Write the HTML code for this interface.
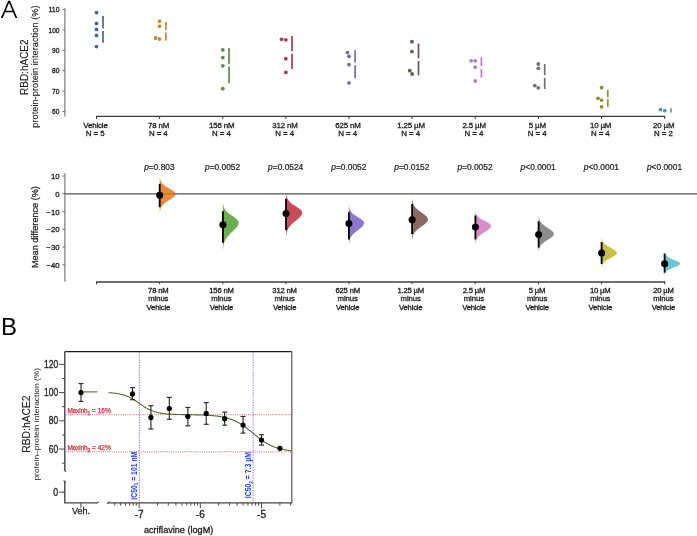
<!DOCTYPE html>
<html><head><meta charset="utf-8">
<style>
html,body{margin:0;padding:0;background:#fff;}
body{width:697px;height:536px;overflow:hidden;}
svg{display:block;font-family:"Liberation Sans", sans-serif;will-change:transform;}
</style></head>
<body>
<svg width="697" height="536" viewBox="0 0 697 536">
<rect width="697" height="536" fill="#fff"/>
<path fill-rule="evenodd" fill="#000" d="M0.9,18 L8.2,0.7 L10.0,0.7 L17.3,18 L15.5,18 L13.07,12.25 L5.13,12.25 L2.7,18 Z M5.72,10.85 L12.48,10.85 L9.1,2.83 Z"/>
<line x1="64.9" y1="8.3" x2="64.9" y2="116.6" stroke="#6e6e6e" stroke-width="1.1"/>
<line x1="62.4" y1="9.50" x2="64.9" y2="9.50" stroke="#6e6e6e" stroke-width="1"/>
<text x="59.50" y="12.10" font-size="7.3" fill="#1a1a1a" text-anchor="end" textLength="11.0" lengthAdjust="spacingAndGlyphs" stroke="#1a1a1a" stroke-width="0.3" >110</text>
<line x1="62.4" y1="29.90" x2="64.9" y2="29.90" stroke="#6e6e6e" stroke-width="1"/>
<text x="59.50" y="32.50" font-size="7.3" fill="#1a1a1a" text-anchor="end" textLength="11.0" lengthAdjust="spacingAndGlyphs" stroke="#1a1a1a" stroke-width="0.3" >100</text>
<line x1="62.4" y1="50.30" x2="64.9" y2="50.30" stroke="#6e6e6e" stroke-width="1"/>
<text x="59.50" y="52.90" font-size="7.3" fill="#1a1a1a" text-anchor="end" textLength="7.4" lengthAdjust="spacingAndGlyphs" stroke="#1a1a1a" stroke-width="0.3" >90</text>
<line x1="62.4" y1="70.70" x2="64.9" y2="70.70" stroke="#6e6e6e" stroke-width="1"/>
<text x="59.50" y="73.30" font-size="7.3" fill="#1a1a1a" text-anchor="end" textLength="7.4" lengthAdjust="spacingAndGlyphs" stroke="#1a1a1a" stroke-width="0.3" >80</text>
<line x1="62.4" y1="91.10" x2="64.9" y2="91.10" stroke="#6e6e6e" stroke-width="1"/>
<text x="59.50" y="93.70" font-size="7.3" fill="#1a1a1a" text-anchor="end" textLength="7.4" lengthAdjust="spacingAndGlyphs" stroke="#1a1a1a" stroke-width="0.3" >70</text>
<line x1="62.4" y1="111.50" x2="64.9" y2="111.50" stroke="#6e6e6e" stroke-width="1"/>
<text x="59.50" y="114.10" font-size="7.3" fill="#1a1a1a" text-anchor="end" textLength="7.4" lengthAdjust="spacingAndGlyphs" stroke="#1a1a1a" stroke-width="0.3" >60</text>
<text font-size="10" fill="#1a1a1a" text-anchor="middle" textLength="55.6" lengthAdjust="spacingAndGlyphs" stroke="#1a1a1a" stroke-width="0.1" transform="translate(27.70,67.20) rotate(-90)" >RBD:hACE2</text>
<text font-size="9.3" fill="#1a1a1a" text-anchor="middle" textLength="122.4" lengthAdjust="spacingAndGlyphs" stroke="#1a1a1a" stroke-width="0.1" transform="translate(38.30,66.60) rotate(-90)" >protein-protein interaction (%)</text>
<line x1="96.00" y1="116.3" x2="665.20" y2="116.3" stroke="#3c3c3c" stroke-width="1.3"/>
<line x1="96.50" y1="116.3" x2="96.50" y2="119" stroke="#3c3c3c" stroke-width="1"/>
<line x1="159.60" y1="116.3" x2="159.60" y2="119" stroke="#3c3c3c" stroke-width="1"/>
<line x1="222.80" y1="116.3" x2="222.80" y2="119" stroke="#3c3c3c" stroke-width="1"/>
<line x1="285.90" y1="116.3" x2="285.90" y2="119" stroke="#3c3c3c" stroke-width="1"/>
<line x1="349.00" y1="116.3" x2="349.00" y2="119" stroke="#3c3c3c" stroke-width="1"/>
<line x1="412.00" y1="116.3" x2="412.00" y2="119" stroke="#3c3c3c" stroke-width="1"/>
<line x1="475.20" y1="116.3" x2="475.20" y2="119" stroke="#3c3c3c" stroke-width="1"/>
<line x1="538.40" y1="116.3" x2="538.40" y2="119" stroke="#3c3c3c" stroke-width="1"/>
<line x1="601.60" y1="116.3" x2="601.60" y2="119" stroke="#3c3c3c" stroke-width="1"/>
<line x1="664.70" y1="116.3" x2="664.70" y2="119" stroke="#3c3c3c" stroke-width="1"/>
<text x="95.50" y="127.70" font-size="7.9" fill="#1a1a1a" text-anchor="middle" stroke="#1a1a1a" stroke-width="0.3" letter-spacing="-0.15">Vehicle</text>
<text x="95.20" y="135.80" font-size="7.9" fill="#1a1a1a" text-anchor="middle" stroke="#1a1a1a" stroke-width="0.3" letter-spacing="-0.05">N = 5</text>
<text x="158.60" y="127.70" font-size="7.9" fill="#1a1a1a" text-anchor="middle" stroke="#1a1a1a" stroke-width="0.3" letter-spacing="-0.15">78 nM</text>
<text x="158.30" y="135.80" font-size="7.9" fill="#1a1a1a" text-anchor="middle" stroke="#1a1a1a" stroke-width="0.3" letter-spacing="-0.05">N = 4</text>
<text x="221.80" y="127.70" font-size="7.9" fill="#1a1a1a" text-anchor="middle" stroke="#1a1a1a" stroke-width="0.3" letter-spacing="-0.15">156 nM</text>
<text x="221.50" y="135.80" font-size="7.9" fill="#1a1a1a" text-anchor="middle" stroke="#1a1a1a" stroke-width="0.3" letter-spacing="-0.05">N = 4</text>
<text x="284.90" y="127.70" font-size="7.9" fill="#1a1a1a" text-anchor="middle" stroke="#1a1a1a" stroke-width="0.3" letter-spacing="-0.15">312 nM</text>
<text x="284.60" y="135.80" font-size="7.9" fill="#1a1a1a" text-anchor="middle" stroke="#1a1a1a" stroke-width="0.3" letter-spacing="-0.05">N = 4</text>
<text x="348.00" y="127.70" font-size="7.9" fill="#1a1a1a" text-anchor="middle" stroke="#1a1a1a" stroke-width="0.3" letter-spacing="-0.15">625 nM</text>
<text x="347.70" y="135.80" font-size="7.9" fill="#1a1a1a" text-anchor="middle" stroke="#1a1a1a" stroke-width="0.3" letter-spacing="-0.05">N = 4</text>
<text x="411.00" y="127.70" font-size="7.9" fill="#1a1a1a" text-anchor="middle" stroke="#1a1a1a" stroke-width="0.3" letter-spacing="-0.15">1.25 µM</text>
<text x="410.70" y="135.80" font-size="7.9" fill="#1a1a1a" text-anchor="middle" stroke="#1a1a1a" stroke-width="0.3" letter-spacing="-0.05">N = 4</text>
<text x="474.20" y="127.70" font-size="7.9" fill="#1a1a1a" text-anchor="middle" stroke="#1a1a1a" stroke-width="0.3" letter-spacing="-0.15">2.5 µM</text>
<text x="473.90" y="135.80" font-size="7.9" fill="#1a1a1a" text-anchor="middle" stroke="#1a1a1a" stroke-width="0.3" letter-spacing="-0.05">N = 4</text>
<text x="537.40" y="127.70" font-size="7.9" fill="#1a1a1a" text-anchor="middle" stroke="#1a1a1a" stroke-width="0.3" letter-spacing="-0.15">5 µM</text>
<text x="537.10" y="135.80" font-size="7.9" fill="#1a1a1a" text-anchor="middle" stroke="#1a1a1a" stroke-width="0.3" letter-spacing="-0.05">N = 4</text>
<text x="600.60" y="127.70" font-size="7.9" fill="#1a1a1a" text-anchor="middle" stroke="#1a1a1a" stroke-width="0.3" letter-spacing="-0.15">10 µM</text>
<text x="600.30" y="135.80" font-size="7.9" fill="#1a1a1a" text-anchor="middle" stroke="#1a1a1a" stroke-width="0.3" letter-spacing="-0.05">N = 4</text>
<text x="663.70" y="127.70" font-size="7.9" fill="#1a1a1a" text-anchor="middle" stroke="#1a1a1a" stroke-width="0.3" letter-spacing="-0.15">20 µM</text>
<text x="663.40" y="135.80" font-size="7.9" fill="#1a1a1a" text-anchor="middle" stroke="#1a1a1a" stroke-width="0.3" letter-spacing="-0.05">N = 2</text>
<circle cx="96.5" cy="12.6" r="1.9" fill="#44689a"/>
<circle cx="96.5" cy="23.4" r="1.9" fill="#44689a"/>
<circle cx="96.5" cy="29.4" r="1.9" fill="#44689a"/>
<circle cx="96.5" cy="35.4" r="1.9" fill="#44689a"/>
<circle cx="96.5" cy="46.6" r="1.9" fill="#44689a"/>
<line x1="103.0" y1="16.1" x2="103.0" y2="28.4" stroke="#44689a" stroke-width="1.7"/>
<line x1="103.0" y1="30.9" x2="103.0" y2="42.7" stroke="#44689a" stroke-width="1.7"/>
<circle cx="159.6" cy="21.3" r="1.9" fill="#c9843f"/>
<circle cx="159.6" cy="26.3" r="1.9" fill="#c9843f"/>
<circle cx="155.7" cy="38.0" r="1.9" fill="#c9843f"/>
<circle cx="159.6" cy="39.1" r="1.9" fill="#c9843f"/>
<line x1="165.9" y1="21.9" x2="165.9" y2="30.0" stroke="#c9843f" stroke-width="1.7"/>
<line x1="165.9" y1="32.4" x2="165.9" y2="40.6" stroke="#c9843f" stroke-width="1.7"/>
<circle cx="222.8" cy="49.9" r="1.9" fill="#5b8c46"/>
<circle cx="222.8" cy="57.6" r="1.9" fill="#5b8c46"/>
<circle cx="222.8" cy="65.8" r="1.9" fill="#5b8c46"/>
<circle cx="222.8" cy="88.7" r="1.9" fill="#5b8c46"/>
<line x1="229.0" y1="48.0" x2="229.0" y2="64.3" stroke="#5b8c46" stroke-width="1.7"/>
<line x1="229.0" y1="66.5" x2="229.0" y2="82.9" stroke="#5b8c46" stroke-width="1.7"/>
<circle cx="281.6" cy="39.3" r="1.9" fill="#a53e4c"/>
<circle cx="285.8" cy="39.8" r="1.9" fill="#a53e4c"/>
<circle cx="285.8" cy="58.7" r="1.9" fill="#a53e4c"/>
<circle cx="285.8" cy="72.4" r="1.9" fill="#a53e4c"/>
<line x1="292.0" y1="36.1" x2="292.0" y2="51.2" stroke="#a53e4c" stroke-width="1.7"/>
<line x1="292.0" y1="53.8" x2="292.0" y2="69.0" stroke="#a53e4c" stroke-width="1.7"/>
<circle cx="347.4" cy="52.6" r="1.9" fill="#7768ad"/>
<circle cx="349.0" cy="56.3" r="1.9" fill="#7768ad"/>
<circle cx="349.0" cy="64.7" r="1.9" fill="#7768ad"/>
<circle cx="349.0" cy="82.9" r="1.9" fill="#7768ad"/>
<line x1="355.1" y1="50.3" x2="355.1" y2="62.6" stroke="#7768ad" stroke-width="1.7"/>
<line x1="355.1" y1="65.2" x2="355.1" y2="78.2" stroke="#7768ad" stroke-width="1.7"/>
<circle cx="411.9" cy="41.7" r="1.9" fill="#6c5550"/>
<circle cx="411.9" cy="51.6" r="1.9" fill="#6c5550"/>
<circle cx="409.8" cy="70.7" r="1.9" fill="#6c5550"/>
<circle cx="412.1" cy="74.0" r="1.9" fill="#6c5550"/>
<line x1="418.5" y1="43.6" x2="418.5" y2="58.3" stroke="#6c5550" stroke-width="1.7"/>
<line x1="418.5" y1="60.9" x2="418.5" y2="75.5" stroke="#6c5550" stroke-width="1.7"/>
<circle cx="471.2" cy="60.8" r="1.9" fill="#b67cc0"/>
<circle cx="475.2" cy="60.8" r="1.9" fill="#b67cc0"/>
<circle cx="475.2" cy="67.2" r="1.9" fill="#b67cc0"/>
<circle cx="475.2" cy="81.0" r="1.9" fill="#b67cc0"/>
<line x1="481.4" y1="57.3" x2="481.4" y2="66.0" stroke="#b67cc0" stroke-width="1.7"/>
<line x1="481.4" y1="69.0" x2="481.4" y2="77.6" stroke="#b67cc0" stroke-width="1.7"/>
<circle cx="538.3" cy="64.0" r="1.9" fill="#707070"/>
<circle cx="538.3" cy="68.3" r="1.9" fill="#707070"/>
<circle cx="534.8" cy="85.6" r="1.9" fill="#707070"/>
<circle cx="538.3" cy="87.8" r="1.9" fill="#707070"/>
<line x1="544.7" y1="64.0" x2="544.7" y2="75.1" stroke="#707070" stroke-width="1.7"/>
<line x1="544.7" y1="77.8" x2="544.7" y2="89.0" stroke="#707070" stroke-width="1.7"/>
<circle cx="601.6" cy="87.7" r="1.9" fill="#8e8a35"/>
<circle cx="598.0" cy="98.3" r="1.9" fill="#8e8a35"/>
<circle cx="601.6" cy="100.1" r="1.9" fill="#8e8a35"/>
<circle cx="601.6" cy="106.8" r="1.9" fill="#8e8a35"/>
<line x1="607.8" y1="89.8" x2="607.8" y2="97.1" stroke="#8e8a35" stroke-width="1.7"/>
<line x1="607.8" y1="99.3" x2="607.8" y2="106.8" stroke="#8e8a35" stroke-width="1.7"/>
<circle cx="660.5" cy="109.6" r="1.9" fill="#4a9aa6"/>
<circle cx="664.8" cy="110.7" r="1.9" fill="#4a9aa6"/>
<line x1="671.0" y1="108.2" x2="671.0" y2="110.4" stroke="#4a9aa6" stroke-width="1.7"/>
<line x1="671.0" y1="110.4" x2="671.0" y2="112.6" stroke="#4a9aa6" stroke-width="1.7"/>
<line x1="64.9" y1="173.2" x2="64.9" y2="281.8" stroke="#6e6e6e" stroke-width="1.1"/>
<line x1="62.4" y1="176.05" x2="64.9" y2="176.05" stroke="#6e6e6e" stroke-width="1"/>
<text x="59.60" y="179.05" font-size="7.8" fill="#1a1a1a" text-anchor="end" stroke="#1a1a1a" stroke-width="0.3" >10</text>
<line x1="62.4" y1="193.80" x2="64.9" y2="193.80" stroke="#6e6e6e" stroke-width="1"/>
<text x="59.60" y="196.80" font-size="7.8" fill="#1a1a1a" text-anchor="end" stroke="#1a1a1a" stroke-width="0.3" >0</text>
<line x1="62.4" y1="211.55" x2="64.9" y2="211.55" stroke="#6e6e6e" stroke-width="1"/>
<text x="59.60" y="214.55" font-size="7.8" fill="#1a1a1a" text-anchor="end" stroke="#1a1a1a" stroke-width="0.3" >−10</text>
<line x1="62.4" y1="229.30" x2="64.9" y2="229.30" stroke="#6e6e6e" stroke-width="1"/>
<text x="59.60" y="232.30" font-size="7.8" fill="#1a1a1a" text-anchor="end" stroke="#1a1a1a" stroke-width="0.3" >−20</text>
<line x1="62.4" y1="247.05" x2="64.9" y2="247.05" stroke="#6e6e6e" stroke-width="1"/>
<text x="59.60" y="250.05" font-size="7.8" fill="#1a1a1a" text-anchor="end" stroke="#1a1a1a" stroke-width="0.3" >−30</text>
<line x1="62.4" y1="264.80" x2="64.9" y2="264.80" stroke="#6e6e6e" stroke-width="1"/>
<text x="59.60" y="267.80" font-size="7.8" fill="#1a1a1a" text-anchor="end" stroke="#1a1a1a" stroke-width="0.3" >−40</text>
<text font-size="9.2" fill="#1a1a1a" text-anchor="middle" textLength="82.0" lengthAdjust="spacingAndGlyphs" stroke="#1a1a1a" stroke-width="0.25" transform="translate(38.30,227.10) rotate(-90)" >Mean difference (%)</text>
<line x1="64.9" y1="193.9" x2="697" y2="193.9" stroke="#555" stroke-width="1.1"/>
<line x1="96.00" y1="282" x2="665.20" y2="282" stroke="#3c3c3c" stroke-width="1.3"/>
<line x1="96.50" y1="282" x2="96.50" y2="284.3" stroke="#3c3c3c" stroke-width="1"/>
<line x1="159.60" y1="282" x2="159.60" y2="284.3" stroke="#3c3c3c" stroke-width="1"/>
<line x1="222.80" y1="282" x2="222.80" y2="284.3" stroke="#3c3c3c" stroke-width="1"/>
<line x1="285.90" y1="282" x2="285.90" y2="284.3" stroke="#3c3c3c" stroke-width="1"/>
<line x1="349.00" y1="282" x2="349.00" y2="284.3" stroke="#3c3c3c" stroke-width="1"/>
<line x1="412.00" y1="282" x2="412.00" y2="284.3" stroke="#3c3c3c" stroke-width="1"/>
<line x1="475.20" y1="282" x2="475.20" y2="284.3" stroke="#3c3c3c" stroke-width="1"/>
<line x1="538.40" y1="282" x2="538.40" y2="284.3" stroke="#3c3c3c" stroke-width="1"/>
<line x1="601.60" y1="282" x2="601.60" y2="284.3" stroke="#3c3c3c" stroke-width="1"/>
<line x1="664.70" y1="282" x2="664.70" y2="284.3" stroke="#3c3c3c" stroke-width="1"/>
<text x="158.30" y="292.70" font-size="7.7" fill="#1a1a1a" text-anchor="middle" stroke="#1a1a1a" stroke-width="0.3" letter-spacing="-0.2">78 nM</text>
<text x="158.30" y="301.30" font-size="7.7" fill="#1a1a1a" text-anchor="middle" stroke="#1a1a1a" stroke-width="0.3" letter-spacing="-0.05">minus</text>
<text x="158.30" y="309.60" font-size="7.7" fill="#1a1a1a" text-anchor="middle" stroke="#1a1a1a" stroke-width="0.3" letter-spacing="-0.2">Vehicle</text>
<text x="221.50" y="292.70" font-size="7.7" fill="#1a1a1a" text-anchor="middle" stroke="#1a1a1a" stroke-width="0.3" letter-spacing="-0.2">156 nM</text>
<text x="221.50" y="301.30" font-size="7.7" fill="#1a1a1a" text-anchor="middle" stroke="#1a1a1a" stroke-width="0.3" letter-spacing="-0.05">minus</text>
<text x="221.50" y="309.60" font-size="7.7" fill="#1a1a1a" text-anchor="middle" stroke="#1a1a1a" stroke-width="0.3" letter-spacing="-0.2">Vehicle</text>
<text x="284.60" y="292.70" font-size="7.7" fill="#1a1a1a" text-anchor="middle" stroke="#1a1a1a" stroke-width="0.3" letter-spacing="-0.2">312 nM</text>
<text x="284.60" y="301.30" font-size="7.7" fill="#1a1a1a" text-anchor="middle" stroke="#1a1a1a" stroke-width="0.3" letter-spacing="-0.05">minus</text>
<text x="284.60" y="309.60" font-size="7.7" fill="#1a1a1a" text-anchor="middle" stroke="#1a1a1a" stroke-width="0.3" letter-spacing="-0.2">Vehicle</text>
<text x="347.70" y="292.70" font-size="7.7" fill="#1a1a1a" text-anchor="middle" stroke="#1a1a1a" stroke-width="0.3" letter-spacing="-0.2">625 nM</text>
<text x="347.70" y="301.30" font-size="7.7" fill="#1a1a1a" text-anchor="middle" stroke="#1a1a1a" stroke-width="0.3" letter-spacing="-0.05">minus</text>
<text x="347.70" y="309.60" font-size="7.7" fill="#1a1a1a" text-anchor="middle" stroke="#1a1a1a" stroke-width="0.3" letter-spacing="-0.2">Vehicle</text>
<text x="410.70" y="292.70" font-size="7.7" fill="#1a1a1a" text-anchor="middle" stroke="#1a1a1a" stroke-width="0.3" letter-spacing="-0.2">1.25 µM</text>
<text x="410.70" y="301.30" font-size="7.7" fill="#1a1a1a" text-anchor="middle" stroke="#1a1a1a" stroke-width="0.3" letter-spacing="-0.05">minus</text>
<text x="410.70" y="309.60" font-size="7.7" fill="#1a1a1a" text-anchor="middle" stroke="#1a1a1a" stroke-width="0.3" letter-spacing="-0.2">Vehicle</text>
<text x="473.90" y="292.70" font-size="7.7" fill="#1a1a1a" text-anchor="middle" stroke="#1a1a1a" stroke-width="0.3" letter-spacing="-0.2">2.5 µM</text>
<text x="473.90" y="301.30" font-size="7.7" fill="#1a1a1a" text-anchor="middle" stroke="#1a1a1a" stroke-width="0.3" letter-spacing="-0.05">minus</text>
<text x="473.90" y="309.60" font-size="7.7" fill="#1a1a1a" text-anchor="middle" stroke="#1a1a1a" stroke-width="0.3" letter-spacing="-0.2">Vehicle</text>
<text x="537.10" y="292.70" font-size="7.7" fill="#1a1a1a" text-anchor="middle" stroke="#1a1a1a" stroke-width="0.3" letter-spacing="-0.2">5 µM</text>
<text x="537.10" y="301.30" font-size="7.7" fill="#1a1a1a" text-anchor="middle" stroke="#1a1a1a" stroke-width="0.3" letter-spacing="-0.05">minus</text>
<text x="537.10" y="309.60" font-size="7.7" fill="#1a1a1a" text-anchor="middle" stroke="#1a1a1a" stroke-width="0.3" letter-spacing="-0.2">Vehicle</text>
<text x="600.30" y="292.70" font-size="7.7" fill="#1a1a1a" text-anchor="middle" stroke="#1a1a1a" stroke-width="0.3" letter-spacing="-0.2">10 µM</text>
<text x="600.30" y="301.30" font-size="7.7" fill="#1a1a1a" text-anchor="middle" stroke="#1a1a1a" stroke-width="0.3" letter-spacing="-0.05">minus</text>
<text x="600.30" y="309.60" font-size="7.7" fill="#1a1a1a" text-anchor="middle" stroke="#1a1a1a" stroke-width="0.3" letter-spacing="-0.2">Vehicle</text>
<text x="663.40" y="292.70" font-size="7.7" fill="#1a1a1a" text-anchor="middle" stroke="#1a1a1a" stroke-width="0.3" letter-spacing="-0.2">20 µM</text>
<text x="663.40" y="301.30" font-size="7.7" fill="#1a1a1a" text-anchor="middle" stroke="#1a1a1a" stroke-width="0.3" letter-spacing="-0.05">minus</text>
<text x="663.40" y="309.60" font-size="7.7" fill="#1a1a1a" text-anchor="middle" stroke="#1a1a1a" stroke-width="0.3" letter-spacing="-0.2">Vehicle</text>
<text x="159.40" y="170.40" font-size="8.4" fill="#1a1a1a" text-anchor="middle" stroke="#1a1a1a" stroke-width="0.22" ><tspan font-style="italic">p</tspan>=0.803</text>
<text x="222.60" y="170.40" font-size="8.4" fill="#1a1a1a" text-anchor="middle" stroke="#1a1a1a" stroke-width="0.22" ><tspan font-style="italic">p</tspan>=0.0052</text>
<text x="285.70" y="170.40" font-size="8.4" fill="#1a1a1a" text-anchor="middle" stroke="#1a1a1a" stroke-width="0.22" ><tspan font-style="italic">p</tspan>=0.0524</text>
<text x="348.80" y="170.40" font-size="8.4" fill="#1a1a1a" text-anchor="middle" stroke="#1a1a1a" stroke-width="0.22" ><tspan font-style="italic">p</tspan>=0.0052</text>
<text x="411.80" y="170.40" font-size="8.4" fill="#1a1a1a" text-anchor="middle" stroke="#1a1a1a" stroke-width="0.22" ><tspan font-style="italic">p</tspan>=0.0152</text>
<text x="475.00" y="170.40" font-size="8.4" fill="#1a1a1a" text-anchor="middle" stroke="#1a1a1a" stroke-width="0.22" ><tspan font-style="italic">p</tspan>=0.0052</text>
<text x="538.20" y="170.40" font-size="8.4" fill="#1a1a1a" text-anchor="middle" stroke="#1a1a1a" stroke-width="0.22" ><tspan font-style="italic">p</tspan>&lt;0.0001</text>
<text x="601.40" y="170.40" font-size="8.4" fill="#1a1a1a" text-anchor="middle" stroke="#1a1a1a" stroke-width="0.22" ><tspan font-style="italic">p</tspan>&lt;0.0001</text>
<text x="664.50" y="170.40" font-size="8.4" fill="#1a1a1a" text-anchor="middle" stroke="#1a1a1a" stroke-width="0.22" ><tspan font-style="italic">p</tspan>&lt;0.0001</text>
<path d="M159.70,177.50 L159.88,177.50 L159.94,178.08 L160.02,178.66 L160.13,179.24 L160.27,179.81 L160.44,180.39 L160.65,180.97 L160.92,181.55 L161.24,182.13 L161.62,182.70 L162.07,183.28 L162.59,183.86 L163.19,184.44 L163.86,185.02 L164.62,185.60 L165.44,186.17 L166.33,186.75 L167.28,187.33 L168.26,187.91 L169.26,188.49 L170.27,189.07 L171.25,189.65 L172.18,190.22 L173.04,190.80 L173.81,191.38 L174.45,191.96 L174.95,192.54 L175.30,193.11 L175.48,193.69 L175.48,194.27 L175.35,194.85 L175.07,195.43 L174.66,196.01 L174.13,196.58 L173.49,197.16 L172.76,197.74 L171.96,198.32 L171.10,198.90 L170.21,199.48 L169.30,200.06 L168.39,200.63 L167.49,201.21 L166.63,201.79 L165.80,202.37 L165.03,202.95 L164.31,203.52 L163.65,204.10 L163.05,204.68 L162.52,205.26 L162.05,205.84 L161.65,206.42 L161.29,207.00 L160.99,207.57 L160.74,208.15 L160.53,208.73 L160.35,209.31 L160.21,209.89 L160.10,210.46 L160.01,211.04 L159.93,211.62 L159.88,212.20 L159.70,212.20 Z" fill="#e26f0b" fill-opacity="0.8"/>
<path d="M222.90,203.20 L223.08,203.20 L223.15,203.97 L223.25,204.75 L223.39,205.52 L223.56,206.29 L223.79,207.07 L224.08,207.84 L224.44,208.61 L224.88,209.39 L225.41,210.16 L226.04,210.93 L226.77,211.71 L227.60,212.48 L228.52,213.25 L229.54,214.03 L230.62,214.80 L231.75,215.57 L232.90,216.35 L234.04,217.12 L235.13,217.89 L236.13,218.67 L237.01,219.44 L237.73,220.21 L238.27,220.99 L238.60,221.76 L238.70,222.53 L238.64,223.31 L238.46,224.08 L238.17,224.85 L237.78,225.63 L237.29,226.40 L236.72,227.17 L236.07,227.95 L235.37,228.72 L234.61,229.49 L233.82,230.27 L233.01,231.04 L232.19,231.81 L231.37,232.59 L230.57,233.36 L229.79,234.13 L229.05,234.91 L228.35,235.68 L227.69,236.45 L227.08,237.23 L226.53,238.00 L226.02,238.77 L225.56,239.55 L225.16,240.32 L224.80,241.09 L224.49,241.87 L224.22,242.64 L223.98,243.41 L223.79,244.19 L223.62,244.96 L223.48,245.73 L223.36,246.51 L223.27,247.28 L223.19,248.05 L223.13,248.83 L223.08,249.60 L222.90,249.60 Z" fill="#459a24" fill-opacity="0.8"/>
<path d="M286.00,193.60 L286.18,193.60 L286.25,194.32 L286.35,195.04 L286.47,195.75 L286.63,196.47 L286.83,197.19 L287.09,197.91 L287.41,198.63 L287.80,199.35 L288.26,200.06 L288.81,200.78 L289.45,201.50 L290.18,202.22 L291.00,202.94 L291.91,203.66 L292.89,204.38 L293.93,205.09 L295.02,205.81 L296.13,206.53 L297.23,207.25 L298.29,207.97 L299.28,208.69 L300.17,209.40 L300.92,210.12 L301.52,210.84 L301.94,211.56 L302.16,212.28 L302.19,213.00 L302.07,213.71 L301.82,214.43 L301.46,215.15 L300.98,215.87 L300.40,216.59 L299.73,217.30 L298.98,218.02 L298.18,218.74 L297.34,219.46 L296.47,220.18 L295.58,220.90 L294.71,221.61 L293.85,222.33 L293.01,223.05 L292.22,223.77 L291.47,224.49 L290.77,225.21 L290.13,225.92 L289.55,226.64 L289.02,227.36 L288.55,228.08 L288.14,228.80 L287.78,229.52 L287.47,230.23 L287.20,230.95 L286.97,231.67 L286.78,232.39 L286.63,233.11 L286.50,233.83 L286.39,234.54 L286.30,235.26 L286.23,235.98 L286.18,236.70 L286.00,236.70 Z" fill="#ba1e31" fill-opacity="0.8"/>
<path d="M348.90,205.90 L349.07,205.90 L349.14,206.53 L349.22,207.17 L349.34,207.81 L349.49,208.44 L349.67,209.08 L349.91,209.71 L350.20,210.34 L350.56,210.98 L350.98,211.62 L351.48,212.25 L352.07,212.88 L352.74,213.52 L353.49,214.16 L354.32,214.79 L355.23,215.43 L356.19,216.06 L357.20,216.69 L358.23,217.33 L359.26,217.97 L360.26,218.60 L361.20,219.24 L362.06,219.87 L362.80,220.50 L363.41,221.14 L363.85,221.78 L364.12,222.41 L364.20,223.05 L364.13,223.68 L363.93,224.31 L363.62,224.95 L363.19,225.59 L362.66,226.22 L362.05,226.85 L361.36,227.49 L360.60,228.12 L359.81,228.76 L358.98,229.40 L358.14,230.03 L357.30,230.66 L356.48,231.30 L355.67,231.94 L354.91,232.57 L354.19,233.21 L353.51,233.84 L352.89,234.47 L352.33,235.11 L351.82,235.75 L351.36,236.38 L350.96,237.01 L350.61,237.65 L350.31,238.28 L350.05,238.92 L349.83,239.56 L349.65,240.19 L349.50,240.82 L349.37,241.46 L349.27,242.09 L349.19,242.73 L349.12,243.37 L349.07,244.00 L348.90,244.00 Z" fill="#7255bf" fill-opacity="0.8"/>
<path d="M412.10,199.00 L412.28,199.00 L412.34,199.68 L412.42,200.37 L412.52,201.05 L412.64,201.73 L412.80,202.42 L412.99,203.10 L413.23,203.78 L413.51,204.47 L413.85,205.15 L414.25,205.83 L414.72,206.52 L415.25,207.20 L415.85,207.88 L416.52,208.57 L417.26,209.25 L418.07,209.93 L418.93,210.62 L419.84,211.30 L420.78,211.98 L421.74,212.67 L422.70,213.35 L423.65,214.03 L424.55,214.72 L425.38,215.40 L426.13,216.08 L426.78,216.77 L427.30,217.45 L427.69,218.13 L427.92,218.82 L428.00,219.50 L427.92,220.18 L427.69,220.87 L427.30,221.55 L426.78,222.23 L426.13,222.92 L425.38,223.60 L424.55,224.28 L423.65,224.97 L422.70,225.65 L421.74,226.33 L420.78,227.02 L419.84,227.70 L418.93,228.38 L418.07,229.07 L417.26,229.75 L416.52,230.43 L415.85,231.12 L415.25,231.80 L414.72,232.48 L414.25,233.17 L413.85,233.85 L413.51,234.53 L413.23,235.22 L412.99,235.90 L412.80,236.58 L412.64,237.27 L412.52,237.95 L412.42,238.63 L412.34,239.32 L412.28,240.00 L412.10,240.00 Z" fill="#6d4538" fill-opacity="0.8"/>
<path d="M475.40,211.30 L475.57,211.30 L475.64,211.84 L475.73,212.39 L475.85,212.94 L476.01,213.48 L476.20,214.03 L476.45,214.57 L476.75,215.12 L477.13,215.66 L477.57,216.21 L478.10,216.75 L478.72,217.30 L479.42,217.84 L480.21,218.39 L481.08,218.93 L482.03,219.48 L483.03,220.02 L484.08,220.56 L485.14,221.11 L486.20,221.66 L487.22,222.20 L488.18,222.75 L489.03,223.29 L489.76,223.84 L490.34,224.38 L490.75,224.93 L490.96,225.47 L490.99,226.02 L490.88,226.56 L490.64,227.11 L490.29,227.65 L489.83,228.19 L489.27,228.74 L488.63,229.28 L487.91,229.83 L487.14,230.38 L486.33,230.92 L485.49,231.47 L484.64,232.01 L483.79,232.56 L482.96,233.10 L482.16,233.65 L481.40,234.19 L480.67,234.74 L480.00,235.28 L479.38,235.82 L478.82,236.37 L478.31,236.91 L477.86,237.46 L477.46,238.00 L477.11,238.55 L476.81,239.09 L476.56,239.64 L476.34,240.19 L476.16,240.73 L476.00,241.28 L475.88,241.82 L475.78,242.37 L475.69,242.91 L475.63,243.45 L475.57,244.00 L475.40,244.00 Z" fill="#d06ec3" fill-opacity="0.8"/>
<path d="M538.60,216.00 L538.77,216.00 L538.83,216.59 L538.90,217.18 L538.99,217.77 L539.11,218.36 L539.26,218.95 L539.44,219.54 L539.66,220.13 L539.92,220.72 L540.23,221.31 L540.60,221.90 L541.03,222.49 L541.52,223.08 L542.08,223.67 L542.70,224.26 L543.38,224.85 L544.13,225.44 L544.93,226.03 L545.78,226.62 L546.66,227.21 L547.57,227.80 L548.48,228.39 L549.38,228.98 L550.25,229.57 L551.07,230.16 L551.81,230.75 L552.47,231.34 L553.02,231.93 L553.44,232.52 L553.73,233.11 L553.88,233.70 L553.88,234.29 L553.72,234.88 L553.42,235.47 L552.96,236.06 L552.38,236.65 L551.69,237.24 L550.90,237.83 L550.04,238.42 L549.14,239.01 L548.20,239.60 L547.26,240.19 L546.33,240.78 L545.42,241.37 L544.57,241.96 L543.76,242.55 L543.02,243.14 L542.35,243.73 L541.74,244.32 L541.21,244.91 L540.74,245.50 L540.34,246.09 L540.00,246.68 L539.72,247.27 L539.48,247.86 L539.29,248.45 L539.13,249.04 L539.01,249.63 L538.91,250.22 L538.83,250.81 L538.77,251.40 L538.60,251.40 Z" fill="#6f6f6f" fill-opacity="0.8"/>
<path d="M601.60,237.80 L601.77,237.80 L601.83,238.30 L601.90,238.80 L602.00,239.30 L602.11,239.80 L602.26,240.30 L602.44,240.80 L602.66,241.30 L602.93,241.80 L603.25,242.30 L603.62,242.80 L604.05,243.30 L604.54,243.80 L605.10,244.30 L605.73,244.80 L606.42,245.30 L607.17,245.80 L607.98,246.30 L608.84,246.80 L609.73,247.30 L610.64,247.80 L611.55,248.30 L612.45,248.80 L613.32,249.30 L614.13,249.80 L614.87,250.30 L615.52,250.80 L616.06,251.30 L616.48,251.80 L616.75,252.30 L616.89,252.80 L616.87,253.30 L616.70,253.80 L616.38,254.30 L615.91,254.80 L615.32,255.30 L614.62,255.80 L613.83,256.30 L612.97,256.80 L612.06,257.30 L611.13,257.80 L610.19,258.30 L609.27,258.80 L608.37,259.30 L607.52,259.80 L606.72,260.30 L605.98,260.80 L605.32,261.30 L604.72,261.80 L604.19,262.30 L603.73,262.80 L603.33,263.30 L602.99,263.80 L602.71,264.30 L602.48,264.80 L602.28,265.30 L602.13,265.80 L602.00,266.30 L601.91,266.80 L601.83,267.30 L601.77,267.80 L601.60,267.80 Z" fill="#baaf1a" fill-opacity="0.8"/>
<path d="M664.60,252.20 L664.77,252.20 L664.83,252.58 L664.91,252.96 L665.00,253.33 L665.12,253.71 L665.27,254.09 L665.45,254.47 L665.68,254.85 L665.95,255.23 L666.27,255.60 L666.64,255.98 L667.08,256.36 L667.58,256.74 L668.15,257.12 L668.78,257.50 L669.49,257.88 L670.25,258.25 L671.07,258.63 L671.93,259.01 L672.83,259.39 L673.76,259.77 L674.68,260.14 L675.60,260.52 L676.47,260.90 L677.30,261.28 L678.05,261.66 L678.71,262.04 L679.25,262.41 L679.67,262.79 L679.95,263.17 L680.09,263.55 L680.07,263.93 L679.90,264.31 L679.57,264.69 L679.10,265.06 L678.50,265.44 L677.79,265.82 L676.99,266.20 L676.12,266.58 L675.20,266.95 L674.25,267.33 L673.30,267.71 L672.36,268.09 L671.46,268.47 L670.59,268.85 L669.79,269.22 L669.04,269.60 L668.36,269.98 L667.76,270.36 L667.22,270.74 L666.75,271.12 L666.35,271.50 L666.01,271.87 L665.72,272.25 L665.49,272.63 L665.29,273.01 L665.14,273.39 L665.01,273.76 L664.91,274.14 L664.83,274.52 L664.77,274.90 L664.60,274.90 Z" fill="#4ab5cc" fill-opacity="0.8"/>
<line x1="159.7" y1="183.8" x2="159.7" y2="207.2" stroke="#000" stroke-width="1.8"/>
<circle cx="159.7" cy="195.2" r="3.5" fill="#000"/>
<line x1="222.9" y1="211.3" x2="222.9" y2="242.8" stroke="#000" stroke-width="1.8"/>
<circle cx="222.9" cy="224.8" r="3.5" fill="#000"/>
<line x1="286.0" y1="199.0" x2="286.0" y2="229.9" stroke="#000" stroke-width="1.8"/>
<circle cx="286.0" cy="213.5" r="3.5" fill="#000"/>
<line x1="348.9" y1="212.2" x2="348.9" y2="239.4" stroke="#000" stroke-width="1.8"/>
<circle cx="348.9" cy="223.6" r="3.5" fill="#000"/>
<line x1="412.1" y1="204.0" x2="412.1" y2="234.0" stroke="#000" stroke-width="1.8"/>
<circle cx="412.1" cy="219.8" r="3.5" fill="#000"/>
<line x1="475.4" y1="215.4" x2="475.4" y2="239.4" stroke="#000" stroke-width="1.8"/>
<circle cx="475.4" cy="226.9" r="3.5" fill="#000"/>
<line x1="538.6" y1="221.4" x2="538.6" y2="247.6" stroke="#000" stroke-width="1.8"/>
<circle cx="538.6" cy="234.5" r="3.5" fill="#000"/>
<line x1="601.6" y1="242.1" x2="601.6" y2="264.0" stroke="#000" stroke-width="1.8"/>
<circle cx="601.6" cy="253.1" r="3.5" fill="#000"/>
<line x1="664.6" y1="253.6" x2="664.6" y2="272.7" stroke="#000" stroke-width="1.8"/>
<circle cx="664.6" cy="263.7" r="3.5" fill="#000"/>
<text x="1.10" y="335.00" font-size="24" fill="#000" >B</text>
<line x1="64.9" y1="351.6" x2="291.8" y2="351.6" stroke="#1e1e1e" stroke-width="1.1"/>
<line x1="291.8" y1="351.6" x2="291.8" y2="502.85" stroke="#555" stroke-width="1.2"/>
<path d="M64.8,351.6 L64.8,470.3" fill="none" stroke="#444" stroke-width="1.4"/>
<path d="M64.0,469.6 L66.0,471.9" fill="none" stroke="#444" stroke-width="1.1"/>
<path d="M63.6,480.4 L66.0,482.6" fill="none" stroke="#444" stroke-width="1.1"/>
<path d="M64.8,481.4 L64.8,502.85" fill="none" stroke="#444" stroke-width="1.4"/>
<line x1="59.1" y1="364.36" x2="65" y2="364.36" stroke="#444" stroke-width="1"/>
<text x="58.20" y="367.86" font-size="10.2" fill="#1a1a1a" text-anchor="end" textLength="14.2" lengthAdjust="spacingAndGlyphs" stroke="#1a1a1a" stroke-width="0.3" >120</text>
<line x1="62.0" y1="378.48" x2="65" y2="378.48" stroke="#444" stroke-width="1"/>
<line x1="59.1" y1="392.60" x2="65" y2="392.60" stroke="#444" stroke-width="1"/>
<text x="58.20" y="396.10" font-size="10.2" fill="#1a1a1a" text-anchor="end" textLength="14.2" lengthAdjust="spacingAndGlyphs" stroke="#1a1a1a" stroke-width="0.3" >100</text>
<line x1="62.0" y1="406.72" x2="65" y2="406.72" stroke="#444" stroke-width="1"/>
<line x1="59.1" y1="420.84" x2="65" y2="420.84" stroke="#444" stroke-width="1"/>
<text x="58.20" y="424.34" font-size="10.2" fill="#1a1a1a" text-anchor="end" textLength="9.4" lengthAdjust="spacingAndGlyphs" stroke="#1a1a1a" stroke-width="0.3" >80</text>
<line x1="62.0" y1="434.96" x2="65" y2="434.96" stroke="#444" stroke-width="1"/>
<line x1="59.1" y1="449.08" x2="65" y2="449.08" stroke="#444" stroke-width="1"/>
<text x="58.20" y="452.58" font-size="10.2" fill="#1a1a1a" text-anchor="end" textLength="9.4" lengthAdjust="spacingAndGlyphs" stroke="#1a1a1a" stroke-width="0.3" >60</text>
<line x1="62.0" y1="463.20" x2="65" y2="463.20" stroke="#444" stroke-width="1"/>
<line x1="59.1" y1="492.2" x2="65" y2="492.2" stroke="#444" stroke-width="1"/>
<text x="58.20" y="495.70" font-size="10.2" fill="#1a1a1a" text-anchor="end" textLength="4.9" lengthAdjust="spacingAndGlyphs" stroke="#1a1a1a" stroke-width="0.3" >0</text>
<text font-size="10.4" fill="#1a1a1a" text-anchor="middle" textLength="57.4" lengthAdjust="spacingAndGlyphs" stroke="#1a1a1a" stroke-width="0.1" transform="translate(29.60,424.10) rotate(-90)" >RBD:hACE2</text>
<text transform="translate(39.3,424.3) rotate(-90) scale(1,0.8)" font-size="8.6" fill="#1a1a1a" text-anchor="middle" textLength="112.6" lengthAdjust="spacingAndGlyphs">protein–protein interaction (%)</text>
<path d="M64.1,502.85 L96.6,502.85" fill="none" stroke="#444" stroke-width="1.4"/>
<path d="M96.3,503.45000000000005 L98.6,501.65000000000003" fill="none" stroke="#444" stroke-width="1.1"/>
<path d="M107.2,503.75 L109.4,501.75" fill="none" stroke="#444" stroke-width="1.1"/>
<path d="M108.6,502.85 L292.3,502.85" fill="none" stroke="#444" stroke-width="1.4"/>
<line x1="80.9" y1="502.85" x2="80.9" y2="507.85" stroke="#444" stroke-width="1"/>
<text x="80.90" y="513.80" font-size="9.9" fill="#1a1a1a" text-anchor="middle" textLength="18.0" lengthAdjust="spacingAndGlyphs" stroke="#1a1a1a" stroke-width="0.3" >Veh.</text>
<line x1="114.75" y1="502.85" x2="114.75" y2="505.55" stroke="#444" stroke-width="1"/>
<line x1="120.68" y1="502.85" x2="120.68" y2="505.55" stroke="#444" stroke-width="1"/>
<line x1="125.52" y1="502.85" x2="125.52" y2="505.55" stroke="#444" stroke-width="1"/>
<line x1="129.62" y1="502.85" x2="129.62" y2="505.55" stroke="#444" stroke-width="1"/>
<line x1="133.17" y1="502.85" x2="133.17" y2="505.55" stroke="#444" stroke-width="1"/>
<line x1="136.30" y1="502.85" x2="136.30" y2="505.55" stroke="#444" stroke-width="1"/>
<line x1="139.10" y1="502.85" x2="139.10" y2="508.05" stroke="#444" stroke-width="1"/>
<line x1="157.52" y1="502.85" x2="157.52" y2="505.55" stroke="#444" stroke-width="1"/>
<line x1="168.30" y1="502.85" x2="168.30" y2="505.55" stroke="#444" stroke-width="1"/>
<line x1="175.95" y1="502.85" x2="175.95" y2="505.55" stroke="#444" stroke-width="1"/>
<line x1="181.88" y1="502.85" x2="181.88" y2="505.55" stroke="#444" stroke-width="1"/>
<line x1="186.72" y1="502.85" x2="186.72" y2="505.55" stroke="#444" stroke-width="1"/>
<line x1="190.82" y1="502.85" x2="190.82" y2="505.55" stroke="#444" stroke-width="1"/>
<line x1="194.37" y1="502.85" x2="194.37" y2="505.55" stroke="#444" stroke-width="1"/>
<line x1="197.50" y1="502.85" x2="197.50" y2="505.55" stroke="#444" stroke-width="1"/>
<line x1="200.30" y1="502.85" x2="200.30" y2="508.05" stroke="#444" stroke-width="1"/>
<line x1="218.72" y1="502.85" x2="218.72" y2="505.55" stroke="#444" stroke-width="1"/>
<line x1="229.50" y1="502.85" x2="229.50" y2="505.55" stroke="#444" stroke-width="1"/>
<line x1="237.15" y1="502.85" x2="237.15" y2="505.55" stroke="#444" stroke-width="1"/>
<line x1="243.08" y1="502.85" x2="243.08" y2="505.55" stroke="#444" stroke-width="1"/>
<line x1="247.92" y1="502.85" x2="247.92" y2="505.55" stroke="#444" stroke-width="1"/>
<line x1="252.02" y1="502.85" x2="252.02" y2="505.55" stroke="#444" stroke-width="1"/>
<line x1="255.57" y1="502.85" x2="255.57" y2="505.55" stroke="#444" stroke-width="1"/>
<line x1="258.70" y1="502.85" x2="258.70" y2="505.55" stroke="#444" stroke-width="1"/>
<line x1="261.50" y1="502.85" x2="261.50" y2="508.05" stroke="#444" stroke-width="1"/>
<line x1="279.92" y1="502.85" x2="279.92" y2="505.55" stroke="#444" stroke-width="1"/>
<line x1="290.70" y1="502.85" x2="290.70" y2="505.55" stroke="#444" stroke-width="1"/>
<text x="139.10" y="517.60" font-size="10" fill="#1a1a1a" text-anchor="middle" stroke="#1a1a1a" stroke-width="0.3" >-7</text>
<text x="200.30" y="517.60" font-size="10" fill="#1a1a1a" text-anchor="middle" stroke="#1a1a1a" stroke-width="0.3" >-6</text>
<text x="261.50" y="517.60" font-size="10" fill="#1a1a1a" text-anchor="middle" stroke="#1a1a1a" stroke-width="0.3" >-5</text>
<text x="178.60" y="532.50" font-size="9.2" fill="#1a1a1a" text-anchor="middle" textLength="69.4" lengthAdjust="spacingAndGlyphs" stroke="#1a1a1a" stroke-width="0.3" >acriflavine (logM)</text>
<line x1="65.6" y1="414.70" x2="291.2" y2="414.70" stroke="#e03a48" stroke-width="1" stroke-dasharray="1,1.2" opacity="0.85"/>
<line x1="65.6" y1="451.80" x2="291.2" y2="451.80" stroke="#e03a48" stroke-width="1" stroke-dasharray="1,1.2" opacity="0.85"/>
<line x1="139.36" y1="352.2" x2="139.36" y2="502.2" stroke="#4a4cf0" stroke-width="1" stroke-dasharray="1.2,1.3" opacity="0.8"/>
<line x1="253.13" y1="352.2" x2="253.13" y2="502.2" stroke="#4a4cf0" stroke-width="1" stroke-dasharray="1.2,1.3" opacity="0.8"/>
<text x="67.40" y="413.30" font-size="6.5" fill="#d8303f" stroke="#d8303f" stroke-width="0.25" ><tspan letter-spacing="-0.2">MaxInh</tspan><tspan font-size="5.0" dy="1.6">1</tspan><tspan dy="-1.6"> = 16%</tspan></text>
<text x="67.40" y="449.90" font-size="6.5" fill="#d8303f" stroke="#d8303f" stroke-width="0.25" ><tspan letter-spacing="-0.2">MaxInh</tspan><tspan font-size="5.0" dy="1.6">2</tspan><tspan dy="-1.6"> = 42%</tspan></text>
<text font-size="8.2" fill="#1f3fff" textLength="48.0" lengthAdjust="spacingAndGlyphs" font-weight="bold" transform="translate(136.90,499.70) rotate(-90)" >IC50<tspan font-size="5.6" dy="1.4">1</tspan><tspan dy="-1.4"> = 101 nM</tspan></text>
<text font-size="8.2" fill="#1f3fff" textLength="46.2" lengthAdjust="spacingAndGlyphs" font-weight="bold" transform="translate(251.30,498.20) rotate(-90)" >IC50<tspan font-size="5.6" dy="1.4">2</tspan><tspan dy="-1.4"> = 7.3 µM</tspan></text>
<path d="M108.60,392.66 L109.40,392.71 L110.20,392.76 L111.00,392.82 L111.80,392.89 L112.60,392.96 L113.40,393.04 L114.20,393.12 L115.00,393.22 L115.80,393.32 L116.60,393.43 L117.40,393.56 L118.20,393.69 L119.00,393.84 L119.80,394.00 L120.60,394.17 L121.40,394.36 L122.20,394.56 L123.00,394.78 L123.80,395.02 L124.60,395.27 L125.40,395.55 L126.20,395.84 L127.00,396.16 L127.80,396.49 L128.60,396.85 L129.40,397.23 L130.20,397.63 L131.00,398.05 L131.80,398.49 L132.60,398.95 L133.40,399.43 L134.20,399.92 L135.00,400.43 L135.80,400.96 L136.60,401.50 L137.40,402.04 L138.20,402.59 L139.00,403.15 L139.80,403.71 L140.60,404.26 L141.40,404.82 L142.20,405.36 L143.00,405.90 L143.80,406.42 L144.60,406.93 L145.40,407.42 L146.20,407.90 L147.00,408.36 L147.80,408.80 L148.60,409.22 L149.40,409.62 L150.20,409.99 L151.00,410.35 L151.80,410.68 L152.60,411.00 L153.40,411.29 L154.20,411.56 L155.00,411.82 L155.80,412.05 L156.60,412.27 L157.40,412.47 L158.20,412.66 L159.00,412.83 L159.80,412.99 L160.60,413.14 L161.40,413.27 L162.20,413.39 L163.00,413.51 L163.80,413.61 L164.60,413.70 L165.40,413.79 L166.20,413.87 L167.00,413.94 L167.80,414.01 L168.60,414.07 L169.40,414.12 L170.20,414.17 L171.00,414.22 L171.80,414.26 L172.60,414.30 L173.40,414.34 L174.20,414.37 L175.00,414.40 L175.80,414.43 L176.60,414.45 L177.40,414.48 L178.20,414.50 L179.00,414.52 L179.80,414.54 L180.60,414.55 L181.40,414.57 L182.20,414.59 L183.00,414.60 L183.80,414.62 L184.60,414.63 L185.40,414.65 L186.20,414.66 L187.00,414.67 L187.80,414.69 L188.60,414.70 L189.40,414.71 L190.20,414.73 L191.00,414.74 L191.80,414.76 L192.60,414.77 L193.40,414.79 L194.20,414.80 L195.00,414.82 L195.80,414.84 L196.60,414.86 L197.40,414.88 L198.20,414.90 L199.00,414.92 L199.80,414.95 L200.60,414.97 L201.40,415.00 L202.20,415.03 L203.00,415.06 L203.80,415.09 L204.60,415.12 L205.40,415.16 L206.20,415.20 L207.00,415.24 L207.80,415.29 L208.60,415.34 L209.40,415.39 L210.20,415.44 L211.00,415.50 L211.80,415.56 L212.60,415.63 L213.40,415.70 L214.20,415.78 L215.00,415.86 L215.80,415.95 L216.60,416.04 L217.40,416.14 L218.20,416.25 L219.00,416.36 L219.80,416.49 L220.60,416.61 L221.40,416.75 L222.20,416.90 L223.00,417.05 L223.80,417.22 L224.60,417.40 L225.40,417.58 L226.20,417.78 L227.00,417.99 L227.80,418.21 L228.60,418.45 L229.40,418.70 L230.20,418.96 L231.00,419.24 L231.80,419.54 L232.60,419.84 L233.40,420.17 L234.20,420.51 L235.00,420.87 L235.80,421.25 L236.60,421.64 L237.40,422.05 L238.20,422.48 L239.00,422.93 L239.80,423.40 L240.60,423.88 L241.40,424.38 L242.20,424.90 L243.00,425.43 L243.80,425.98 L244.60,426.55 L245.40,427.13 L246.20,427.72 L247.00,428.33 L247.80,428.95 L248.60,429.58 L249.40,430.22 L250.20,430.86 L251.00,431.51 L251.80,432.17 L252.60,432.83 L253.40,433.48 L254.20,434.14 L255.00,434.80 L255.80,435.45 L256.60,436.10 L257.40,436.74 L258.20,437.37 L259.00,437.99 L259.80,438.60 L260.60,439.20 L261.40,439.79 L262.20,440.36 L263.00,440.92 L263.80,441.46 L264.60,441.98 L265.40,442.49 L266.20,442.98 L267.00,443.45 L267.80,443.90 L268.60,444.34 L269.40,444.75 L270.20,445.15 L271.00,445.54 L271.80,445.90 L272.60,446.25 L273.40,446.58 L274.20,446.89 L275.00,447.19 L275.80,447.48 L276.60,447.74 L277.40,448.00 L278.20,448.24 L279.00,448.47 L279.80,448.68 L280.60,448.88 L281.40,449.07 L282.20,449.25 L283.00,449.42 L283.80,449.58 L284.60,449.73 L285.40,449.87 L286.20,450.00 L287.00,450.13 L287.80,450.24 L288.60,450.35 L289.40,450.45 L290.20,450.55 L291.00,450.64" fill="none" stroke="#4a6e2c" stroke-width="1.1"/>
<line x1="83.5" y1="391.9" x2="97.3" y2="391.9" stroke="#4a6e2c" stroke-width="1.1"/>
<line x1="81.00" y1="383.6" x2="81.00" y2="401.4" stroke="#2a2a2a" stroke-width="1.15"/>
<line x1="78.50" y1="383.6" x2="83.50" y2="383.6" stroke="#2a2a2a" stroke-width="1.15"/>
<line x1="78.50" y1="401.4" x2="83.50" y2="401.4" stroke="#2a2a2a" stroke-width="1.15"/>
<circle cx="81.00" cy="392.6" r="2.6" fill="#000"/>
<line x1="132.49" y1="387.6" x2="132.49" y2="399.7" stroke="#2a2a2a" stroke-width="1.15"/>
<line x1="129.99" y1="387.6" x2="134.99" y2="387.6" stroke="#2a2a2a" stroke-width="1.15"/>
<line x1="129.99" y1="399.7" x2="134.99" y2="399.7" stroke="#2a2a2a" stroke-width="1.15"/>
<circle cx="132.49" cy="393.9" r="2.6" fill="#000"/>
<line x1="150.91" y1="405.7" x2="150.91" y2="429.0" stroke="#2a2a2a" stroke-width="1.15"/>
<line x1="148.41" y1="405.7" x2="153.41" y2="405.7" stroke="#2a2a2a" stroke-width="1.15"/>
<line x1="148.41" y1="429.0" x2="153.41" y2="429.0" stroke="#2a2a2a" stroke-width="1.15"/>
<circle cx="150.91" cy="417.4" r="2.6" fill="#000"/>
<line x1="169.33" y1="397.4" x2="169.33" y2="419.3" stroke="#2a2a2a" stroke-width="1.15"/>
<line x1="166.83" y1="397.4" x2="171.83" y2="397.4" stroke="#2a2a2a" stroke-width="1.15"/>
<line x1="166.83" y1="419.3" x2="171.83" y2="419.3" stroke="#2a2a2a" stroke-width="1.15"/>
<circle cx="169.33" cy="408.5" r="2.6" fill="#000"/>
<line x1="187.82" y1="407.5" x2="187.82" y2="425.8" stroke="#2a2a2a" stroke-width="1.15"/>
<line x1="185.32" y1="407.5" x2="190.32" y2="407.5" stroke="#2a2a2a" stroke-width="1.15"/>
<line x1="185.32" y1="425.8" x2="190.32" y2="425.8" stroke="#2a2a2a" stroke-width="1.15"/>
<circle cx="187.82" cy="416.4" r="2.6" fill="#000"/>
<line x1="206.24" y1="402.6" x2="206.24" y2="424.3" stroke="#2a2a2a" stroke-width="1.15"/>
<line x1="203.74" y1="402.6" x2="208.74" y2="402.6" stroke="#2a2a2a" stroke-width="1.15"/>
<line x1="203.74" y1="424.3" x2="208.74" y2="424.3" stroke="#2a2a2a" stroke-width="1.15"/>
<circle cx="206.24" cy="413.4" r="2.6" fill="#000"/>
<line x1="224.66" y1="412.1" x2="224.66" y2="425.2" stroke="#2a2a2a" stroke-width="1.15"/>
<line x1="222.16" y1="412.1" x2="227.16" y2="412.1" stroke="#2a2a2a" stroke-width="1.15"/>
<line x1="222.16" y1="425.2" x2="227.16" y2="425.2" stroke="#2a2a2a" stroke-width="1.15"/>
<circle cx="224.66" cy="418.7" r="2.6" fill="#000"/>
<line x1="243.08" y1="416.4" x2="243.08" y2="433.1" stroke="#2a2a2a" stroke-width="1.15"/>
<line x1="240.58" y1="416.4" x2="245.58" y2="416.4" stroke="#2a2a2a" stroke-width="1.15"/>
<line x1="240.58" y1="433.1" x2="245.58" y2="433.1" stroke="#2a2a2a" stroke-width="1.15"/>
<circle cx="243.08" cy="425.0" r="2.6" fill="#000"/>
<line x1="261.50" y1="434.7" x2="261.50" y2="445.1" stroke="#2a2a2a" stroke-width="1.15"/>
<line x1="259.00" y1="434.7" x2="264.00" y2="434.7" stroke="#2a2a2a" stroke-width="1.15"/>
<line x1="259.00" y1="445.1" x2="264.00" y2="445.1" stroke="#2a2a2a" stroke-width="1.15"/>
<circle cx="261.50" cy="440.1" r="2.6" fill="#000"/>
<circle cx="279.92" cy="448.3" r="2.6" fill="#000"/>
</svg>
</body></html>
